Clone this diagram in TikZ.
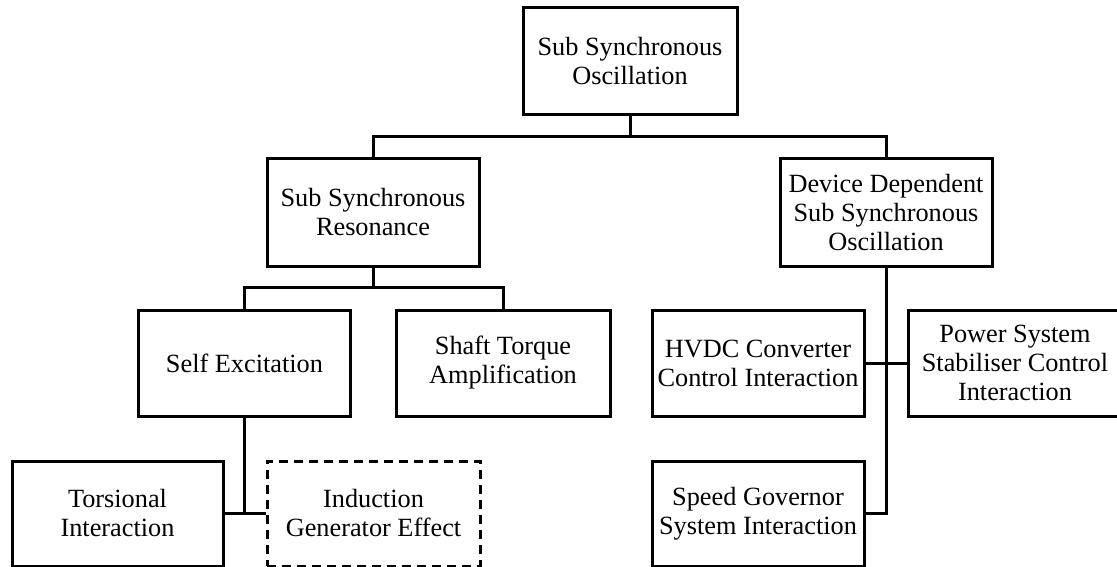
\documentclass[tikz,border=0pt]{standalone}
\usepackage{fontspec}
\setmainfont{Liberation Serif}
\begin{document}
\begin{tikzpicture}[x=1pt,y=-1pt,
  box/.style={draw, line width=3pt, rectangle, minimum width=212pt, minimum height=106pt,
    align=center, inner sep=0pt, font=\fontsize{26.3}{29}\selectfont},
  dashbox/.style={box, dash pattern=on 9pt off 6pt},
  link/.style={line width=3pt}]
\useasboundingbox (0,0) rectangle (1117,567);

% tree nodes
\node[box, minimum width=214pt, minimum height=107pt] (top) at (630,61.5) {Sub Synchronous\\Oscillation};
\node[box, minimum height=107pt] (res) at (373,212.5) {Sub Synchronous\\Resonance};
\node[box, minimum height=107pt] (dev) at (886,212.5) {Device Dependent\\Sub Synchronous\\Oscillation};
\node[box] (self) at (244.5,363) {Self Excitation};
\node[box, minimum width=214pt] (shaft) at (503,363) {Shaft Torque\\Amplification};
\node[box] (hvdc) at (758,363) {HVDC Converter\\Control Interaction};
\node[box, minimum width=214pt] (pss) at (1015,363) {Power System\\Stabiliser Control\\Interaction};
\node[box, minimum width=211pt, minimum height=105pt] (tors) at (117.5,513.5) {Torsional\\Interaction};
\node[dashbox, minimum width=213pt, minimum height=105pt] (ind) at (373.5,513.5) {Induction\\Generator Effect};
\node[box, minimum height=105pt] (speed) at (758,513.5) {Speed Governor\\System Interaction};

% bus points
\coordinate (bus1) at (630,137);
\coordinate (bus2) at (373,287);
\coordinate (bus3) at (244.5,513.5);
\coordinate (bus4) at (886,513.5);

% connectors
\draw[link] (top.south) -- (bus1);
\draw[link] (res.north) |- (bus1) -| (dev.north);
\draw[link] (res.south) -- (bus2);
\draw[link] (self.north) |- (bus2) -| (shaft.north);
\draw[link] (self.south) -- (bus3);
\draw[link] (tors.east) -- (ind.west);
\draw[link] (dev.south) -- (bus4) -- (speed.east);
\draw[link] (hvdc.east) -- (pss.west);
\end{tikzpicture}
\end{document}
